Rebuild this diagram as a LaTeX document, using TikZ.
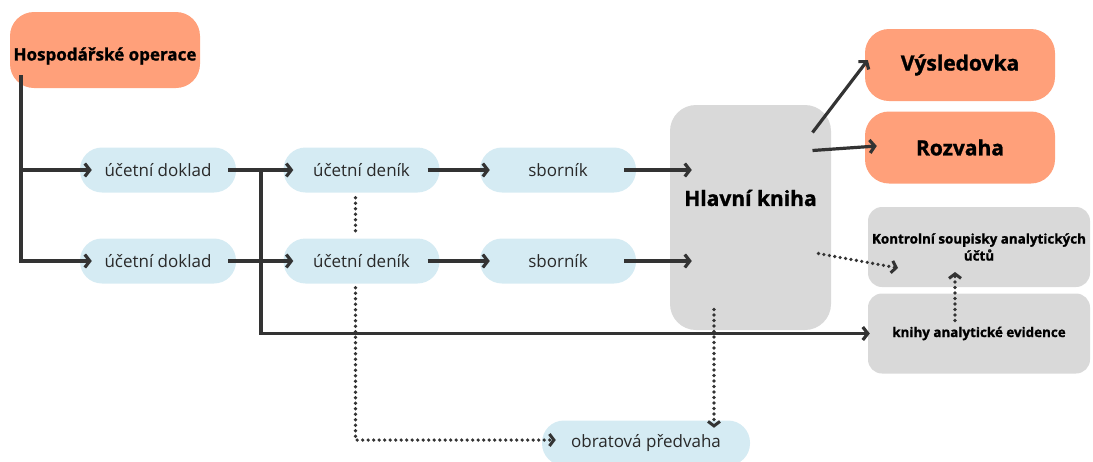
\documentclass[tikz,border=0pt]{standalone}
\usepackage{fontspec}
\setmainfont[BoldFeatures={FakeBold=1.2}]{Open Sans}
\usetikzlibrary{arrows.meta,calc}
\definecolor{salmon}{HTML}{FFA07A}
\definecolor{lblue}{HTML}{D5EBF3}
\definecolor{lgray}{HTML}{D9D9D9}
\definecolor{ink}{HTML}{333333}
\begin{document}
\begin{tikzpicture}[x=1pt,y=-1pt,
  box/.style={rectangle, inner sep=0pt, anchor=center, align=center},
  bluebox/.style={box, fill=lblue, rounded corners=22pt, minimum width=156pt, minimum height=45pt, text=ink!80!black, font=\fontsize{17}{20}\selectfont},
  orangebox/.style={box, fill=salmon, rounded corners=24pt, minimum width=190pt, minimum height=72pt, font=\bfseries\fontsize{21}{24}\selectfont},
  graybox/.style={box, fill=lgray, rounded corners=14pt, minimum width=222pt, minimum height=80pt, font=\bfseries\fontsize{13.4}{17}\selectfont},
  conn/.style={draw=ink, line width=3.2pt, -{Straight Barb[length=5pt,width=13pt,line width=3.2pt]}},
  dotline/.style={draw=ink, line width=3.6pt, line cap=round, dash pattern=on 0pt off 5.5pt},
  dotconn/.style={dotline, -{Straight Barb[length=4.5pt,width=12pt,line width=3pt]}}
]
\useasboundingbox (0,0) rectangle (1093,461);

% nodes
\node[orangebox, minimum width=190pt, minimum height=76pt, font=\bfseries\fontsize{17}{20}\selectfont] (ho) at (105,50) {\raisebox{0pt}[\dimexpr\height+12pt\relax][\depth]{Hospodářské operace}};
\node[bluebox] (ud1) at (158,170) {účetní doklad};
\node[bluebox] (ud2) at (158,261) {účetní doklad};
\node[bluebox] (dn1) at (361.5,170) {účetní deník};
\node[bluebox] (dn2) at (361.5,261) {účetní deník};
\node[bluebox] (sb1) at (558,170) {sborník};
\node[bluebox] (sb2) at (558,261) {sborník};
\node[box, fill=lgray, rounded corners=26pt, minimum width=161pt, minimum height=225pt] (hk) at (750.5,217.5) {};
\node[box, font=\bfseries\fontsize{21}{24}\selectfont] (hkt) at (750.5,198) {Hlavní kniha};
\node[orangebox] (vy) at (960,65) {Výsledovka};
\node[orangebox] (rz) at (960,147.5) {Rozvaha};
\node[graybox] (ks) at (979,247) {Kontrolní soupisky analytických\\účtů};
\node[graybox] (kae) at (979,333.5) {knihy analytické evidence};
\node[bluebox, minimum width=208pt] (ob) at (646,443) {obratová předvaha};

% connectors
\coordinate (hs) at (21,75);
\draw[conn] (hs) |- ($(ud1.west)+(12,0)$);
\draw[conn] (hs) |- ($(ud2.west)+(12,0)$);
\draw[conn] ($(ud1.east)+(-8,0)$) -- ($(dn1.west)+(10,0)$);
\draw[conn] ($(ud2.east)+(-8,0)$) -- ($(dn2.west)+(10,0)$);
\coordinate (j1) at (261,170);
\draw[conn] (j1) |- ($(kae.west)+(2,0)$);
\draw[conn] ($(dn1.east)+(-12,0)$) -- ($(sb1.west)+(10,0)$);
\draw[conn] ($(dn2.east)+(-12,0)$) -- ($(sb2.west)+(10,0)$);
\draw[conn] ($(sb1.east)+(-12,0)$) -- ($(sb1.east -| hk.west)+(22,0)$);
\draw[conn] ($(sb2.east)+(-12,0)$) -- ($(sb2.east -| hk.west)+(22,0)$);
\draw[conn] ($(hk.center)+(62,-85)$) -- ($(vy.west)+(3,-5)$);
\draw[conn] ($(hk.center)+(62,-67)$) -- ($(rz.west)+(12,-1.5)$);

\draw[dotconn] ($(hk.center)+(68,36)$) -- ($(ks.center)+(-81,21)$);
\draw[dotconn] ($(kae.center)+(-24,-13)$) -- ($(ks.center)+(-24,25)$);
\draw[dotline] ($(dn1.south)+(-6,5)$) -- ($(dn2.north)+(-6,-6)$);
\draw[dotconn] ($(dn2.south)+(-6,4)$) |- ($(ob.west)+(14,-3)$);
\draw[dotconn] ($(hk.center)+(-36.5,92)$) -- ($(ob.north)+(68,7.5)$);
\end{tikzpicture}
\end{document}
